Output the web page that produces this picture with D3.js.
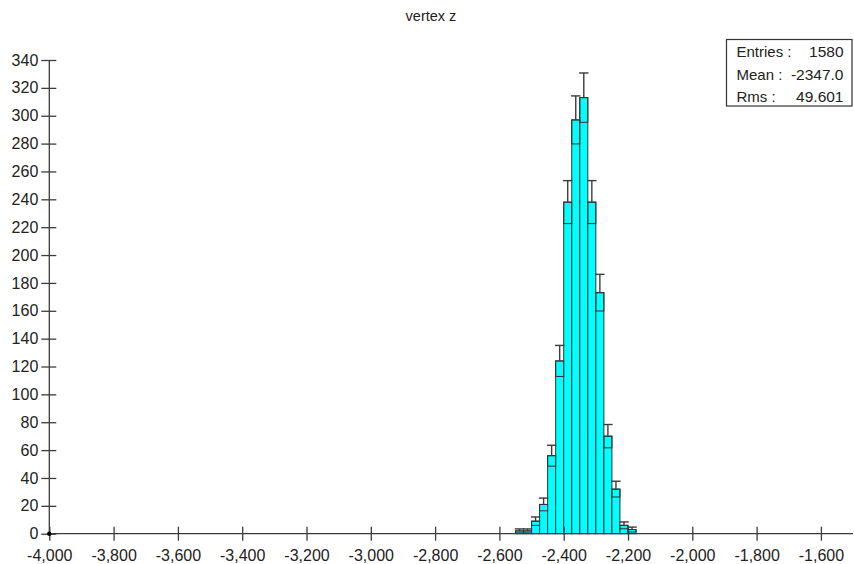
<!DOCTYPE html>
<html>
<head>
<meta charset="utf-8">
<script src="https://cdn.jsdelivr.net/npm/d3@7"></script>
<style>
  html, body { margin: 0; padding: 0; background: #fff; }
  svg { display: block; font-family: "Liberation Sans", Arial, sans-serif; }
</style>
</head>
<body>
<svg id="chart" width="854" height="564"></svg>
<script>
// ---- data ----
const title = "vertex z";
const binStarts = [-2550, -2525, -2500, -2475, -2450, -2425, -2400, -2375, -2350, -2325, -2300, -2275, -2250, -2225, -2200];
const binWidth = 25;
const counts = [2, 2, 9, 21, 56, 124, 238, 297, 313, 238, 173, 70, 32, 6, 3];
const xTicks = [-4000, -3800, -3600, -3400, -3200, -3000, -2800, -2600, -2400, -2200, -2000, -1800, -1600];
const yTicks = [0, 20, 40, 60, 80, 100, 120, 140, 160, 180, 200, 220, 240, 260, 280, 300, 320, 340];
const statLabels = ["Entries :", "Mean :", "Rms :"];
const statValues = ["1580", "-2347.0", "49.601"];

// ---- layout ----
const svg = d3.select("#chart");
const x = d3.scaleLinear().domain([-4000, -1600]).range([49.3, 820.9]);
const y = d3.scaleLinear().domain([0, 340]).range([533.7, 60]);
const axisColor = "#3c3c3c";
const textColor = "#222";
const fmt = v => d3.format(",")(v).replace("\u2212", "-");

// title
svg.append("text")
  .attr("x", 431).attr("y", 21)
  .attr("text-anchor", "middle")
  .attr("font-size", "14.5px")
  .attr("fill", textColor)
  .text(title);

// bars
const data = binStarts.map((s, i) => ({ lo: s, hi: s + binWidth, n: counts[i] }));
const g = svg.append("g");
g.selectAll("rect.bar").data(data).join("rect")
  .attr("class", "bar")
  .attr("x", d => x(d.lo))
  .attr("width", d => x(d.hi) - x(d.lo))
  .attr("y", d => y(d.n))
  .attr("height", d => y(0) - y(d.n))
  .attr("fill", "#00ffff")
  .attr("stroke", "#333")
  .attr("stroke-width", 1);

// error boxes (lower half)
g.selectAll("rect.err").data(data).join("rect")
  .attr("class", "err")
  .attr("x", d => x(d.lo))
  .attr("width", d => x(d.hi) - x(d.lo))
  .attr("y", d => y(d.n))
  .attr("height", d => y(Math.max(d.n - Math.sqrt(d.n), 0)) - y(d.n))
  .attr("fill", "none")
  .attr("stroke", "#333")
  .attr("stroke-width", 1);

// whiskers (upper half)
g.selectAll("line.whisk").data(data).join("line")
  .attr("class", "whisk")
  .attr("x1", d => x(d.lo + binWidth / 2)).attr("x2", d => x(d.lo + binWidth / 2))
  .attr("y1", d => y(d.n)).attr("y2", d => y(d.n + Math.sqrt(d.n)))
  .attr("stroke", "#3a3a3a").attr("stroke-width", 1.4);
g.selectAll("line.cap").data(data).join("line")
  .attr("class", "cap")
  .attr("x1", d => x(d.lo + binWidth / 2) - 4.7).attr("x2", d => x(d.lo + binWidth / 2) + 4.7)
  .attr("y1", d => y(d.n + Math.sqrt(d.n))).attr("y2", d => y(d.n + Math.sqrt(d.n)))
  .attr("stroke", "#3a3a3a").attr("stroke-width", 1.4);

// y axis
const yAxis = svg.append("g")
  .attr("transform", `translate(${x(-4000)},0)`)
  .call(d3.axisLeft(y).tickValues(yTicks).tickSizeOuter(0).tickSize(8).tickPadding(3));
yAxis.select(".domain").remove();
yAxis.selectAll(".tick line").attr("x1", 7).attr("x2", -8).attr("stroke", axisColor).attr("stroke-width", 1.3);
yAxis.selectAll(".tick text")
  .attr("x", -11)
  .attr("font-size", "16px")
  .attr("font-family", "Liberation Sans, Arial, sans-serif")
  .attr("fill", textColor);
svg.append("line")
  .attr("x1", x(-4000)).attr("x2", x(-4000))
  .attr("y1", y(340)).attr("y2", y(0))
  .attr("stroke", axisColor).attr("stroke-width", 1.3);

// x axis
const xAxis = svg.append("g")
  .attr("transform", `translate(0,${y(0)})`)
  .call(d3.axisBottom(x).tickValues(xTicks).tickFormat(fmt).tickSizeOuter(0).tickSize(7).tickPadding(9));
xAxis.select(".domain").remove();
xAxis.selectAll(".tick line").attr("y1", -7).attr("y2", 7).attr("stroke", axisColor).attr("stroke-width", 1.3);
xAxis.selectAll(".tick text")
  .attr("font-size", "16px")
  .attr("font-family", "Liberation Sans, Arial, sans-serif")
  .attr("fill", textColor);
svg.append("line")
  .attr("x1", x(-4000)).attr("x2", 853)
  .attr("y1", y(0)).attr("y2", y(0))
  .attr("stroke", axisColor).attr("stroke-width", 1.3);
svg.append("circle")
  .attr("cx", x(-4000)).attr("cy", y(0)).attr("r", 2.2)
  .attr("fill", "#000");

// stats box
const box = svg.append("g");
box.append("rect")
  .attr("x", 726.5).attr("y", 39.5).attr("width", 125.5).attr("height", 66.5)
  .attr("fill", "#fff").attr("stroke", "#333").attr("stroke-width", 1.2);
statLabels.forEach((lab, i) => {
  box.append("text")
    .attr("x", 736.5).attr("y", 57 + i * 22.5)
    .attr("font-size", "15px").attr("fill", textColor)
    .text(lab);
  box.append("text")
    .attr("x", 843.5).attr("y", 57 + i * 22.5)
    .attr("text-anchor", "end")
    .attr("font-size", "15.5px").attr("fill", textColor)
    .text(statValues[i]);
});
</script>
</body>
</html>
